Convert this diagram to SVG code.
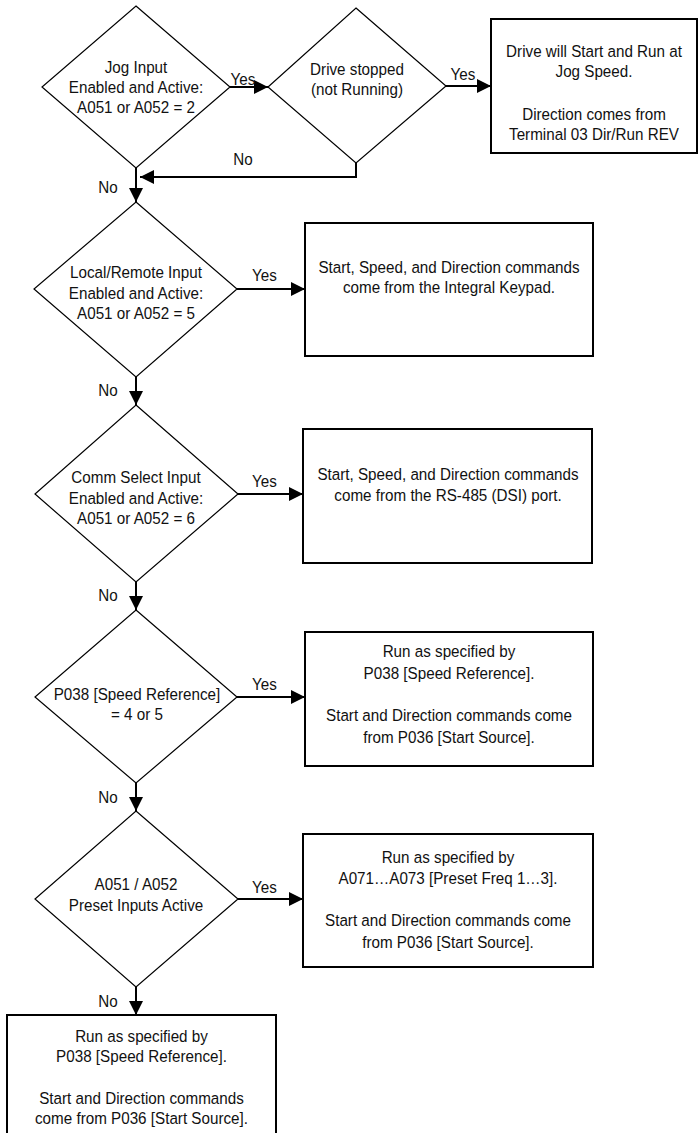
<svg xmlns="http://www.w3.org/2000/svg" width="698" height="1133" viewBox="0 0 698 1133">
<style>
.dia{fill:#fff;stroke:#000;stroke-width:1.2}
.box{fill:#fff;stroke:#000;stroke-width:2}
.con{fill:none;stroke:#000;stroke-width:2}
text{font-family:"Liberation Sans",Arial,sans-serif;font-size:17px;fill:#111;text-anchor:middle}
</style>
<defs>
<marker id="ah" markerUnits="userSpaceOnUse" markerWidth="14" markerHeight="14" refX="14" refY="7" orient="auto" viewBox="0 0 14 14">
<path d="M0,0 L14,7 L0,14 z" fill="#000"/>
</marker>
</defs>
<rect width="698" height="1133" fill="#fff"/>

<g id="connectors">
<path class="con" d="M230,87 H268" marker-end="url(#ah)"/>
<path class="con" d="M446,86 H491" marker-end="url(#ah)"/>
<path class="con" d="M356,163 V177 H140" marker-end="url(#ah)"/>
<path class="con" d="M136,168 V202" marker-end="url(#ah)"/>
<path class="con" d="M237,289 H305" marker-end="url(#ah)"/>
<path class="con" d="M136,377 V405" marker-end="url(#ah)"/>
<path class="con" d="M238,494 H303" marker-end="url(#ah)"/>
<path class="con" d="M136,582 V610" marker-end="url(#ah)"/>
<path class="con" d="M237,697 H305" marker-end="url(#ah)"/>
<path class="con" d="M136,783 V811" marker-end="url(#ah)"/>
<path class="con" d="M238,899 H303" marker-end="url(#ah)"/>
<path class="con" d="M136,987 V1015" marker-end="url(#ah)"/>
<g transform="translate(243 0) scale(0.895 1)"><text y="85">Yes</text><text y="165">No</text></g>
<g transform="translate(463 0) scale(0.895 1)"><text y="80">Yes</text></g>
<g transform="translate(264.5 0) scale(0.895 1)"><text y="281">Yes</text><text y="487">Yes</text><text y="690">Yes</text><text y="893">Yes</text></g>
<g transform="translate(108 0) scale(0.895 1)"><text y="193">No</text><text y="396">No</text><text y="601">No</text><text y="803">No</text><text y="1007">No</text></g>
</g>

<g id="d1">
<polygon class="dia" points="136,6 230,87 136,168 42,87"/>
<g transform="translate(136 0) scale(0.895 1)"><text y="73">Jog Input</text><text y="93">Enabled and Active:</text><text y="113">A051 or A052 = 2</text></g>
</g>
<g id="d2">
<polygon class="dia" points="356,8 446,86 356,163 268,87"/>
<g transform="translate(357 0) scale(0.895 1)"><text y="75">Drive stopped</text><text y="95">(not Running)</text></g>
</g>
<g id="b1">
<rect class="box" x="491" y="19" width="206" height="134"/>
<g transform="translate(594 0) scale(0.895 1)"><text y="57">Drive will Start and Run at</text><text y="77">Jog Speed.</text><text y="120">Direction comes from</text><text y="140">Terminal 03 Dir/Run REV</text></g>
</g>

<g id="d3">
<polygon class="dia" points="136,202 237,289 136,377 34,289"/>
<g transform="translate(136 0) scale(0.895 1)"><text y="278">Local/Remote Input</text><text y="299">Enabled and Active:</text><text y="319">A051 or A052 = 5</text></g>
</g>
<g id="b2">
<rect class="box" x="305" y="223" width="288" height="133"/>
<g transform="translate(449 0) scale(0.895 1)"><text y="273">Start, Speed, and Direction commands</text><text y="293">come from the Integral Keypad.</text></g>
</g>

<g id="d4">
<polygon class="dia" points="136,405 238,494 136,582 35,494"/>
<g transform="translate(136 0) scale(0.895 1)"><text y="483">Comm Select Input</text><text y="504">Enabled and Active:</text><text y="524">A051 or A052 = 6</text></g>
</g>
<g id="b3">
<rect class="box" x="303" y="429" width="289" height="134"/>
<g transform="translate(448 0) scale(0.895 1)"><text y="480">Start, Speed, and Direction commands</text><text y="501">come from the RS-485 (DSI) port.</text></g>
</g>

<g id="d5">
<polygon class="dia" points="136,610 237,697 136,783 35,697"/>
<g transform="translate(137 0) scale(0.895 1)"><text y="700">P038 [Speed Reference]</text><text y="720">= 4 or 5</text></g>
</g>
<g id="b4">
<rect class="box" x="305" y="632" width="288" height="134"/>
<g transform="translate(449 0) scale(0.895 1)"><text y="657">Run as specified by</text><text y="679">P038 [Speed Reference].</text><text y="721">Start and Direction commands come</text><text y="743">from P036 [Start Source].</text></g>
</g>

<g id="d6">
<polygon class="dia" points="136,811 238,899 136,987 35,899"/>
<g transform="translate(136 0) scale(0.895 1)"><text y="890">A051 / A052</text><text y="911">Preset Inputs Active</text></g>
</g>
<g id="b5">
<rect class="box" x="303" y="834" width="290" height="133"/>
<g transform="translate(448 0) scale(0.895 1)"><text y="863">Run as specified by</text><text y="884">A071…A073 [Preset Freq 1…3].</text><text y="926">Start and Direction commands come</text><text y="948">from P036 [Start Source].</text></g>
</g>

<g id="b6">
<rect class="box" x="7" y="1015" width="269" height="130"/>
<g transform="translate(141.5 0) scale(0.895 1)"><text y="1042">Run as specified by</text><text y="1062">P038 [Speed Reference].</text><text y="1104">Start and Direction commands</text><text y="1124">come from P036 [Start Source].</text></g>
</g>
</svg>
